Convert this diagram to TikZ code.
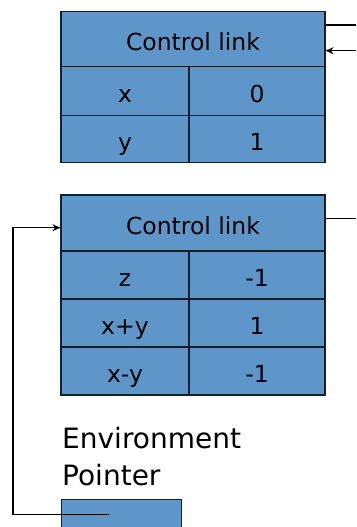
\documentclass[tikz,border=0pt]{standalone}
\usepackage{fontspec}
\setmainfont{DejaVu Sans}
\usetikzlibrary{arrows.meta,calc}
\definecolor{cellblue}{RGB}{94,150,201}
\definecolor{cellline}{RGB}{22,32,44}
\tikzset{
  cell/.style={draw=cellline, line width=1.1pt, fill=cellblue, inner sep=0pt,
    font=\fontsize{23.5}{28}\selectfont, text=black,
    text height=22pt, text depth=0pt},
  link/.style={draw=black, line width=1.5pt},
  tip/.style={-{Stealth[length=8pt,width=7pt]}}
}
\begin{document}
\begin{tikzpicture}[x=1pt,y=-1pt]
\useasboundingbox (0,0) rectangle (356,527);

% upper activation record
\node[cell, minimum width=264pt, minimum height=55pt] (hA) at (193,39.2) {Control link};
\node[cell, minimum width=128pt, minimum height=49pt] (xA) at (125,91.2) {x};
\node[cell, minimum width=136pt, minimum height=49pt] (xB) at (257,91.2) {0};
\node[cell, minimum width=128pt, minimum height=47pt] (yA) at (125,139.4) {y};
\node[cell, minimum width=136pt, minimum height=47pt] (yB) at (257,139.4) {1};

% lower activation record
\node[cell, minimum width=264pt, minimum height=56pt] (hB) at (193,223) {Control link};
\node[cell, minimum width=128pt, minimum height=48pt] (zA) at (125,275) {z};
\node[cell, minimum width=136pt, minimum height=48pt] (zB) at (257,275) {-1};
\node[cell, minimum width=128pt, minimum height=48pt] (sA) at (125,323) {x+y};
\node[cell, minimum width=136pt, minimum height=48pt] (sB) at (257,323) {1};
\node[cell, minimum width=128pt, minimum height=48pt] (dA) at (125,371) {x-y};
\node[cell, minimum width=136pt, minimum height=48pt] (dB) at (257,371) {-1};

% environment pointer
\node[anchor=north west, inner sep=0pt, font=\fontsize{28}{37}\selectfont, align=left] (lbl) at (62,426.6) {Environment\\Pointer};
\node[cell, minimum width=120pt, minimum height=50pt] (ep) at (121.5,524.5) {};

% connectors
\coordinate (outA) at (356,25);
\coordinate (inA) at (356,50.7);
\coordinate (outB) at (356,218.3);
\coordinate (epS) at (109,514.3);
\coordinate (bend) at (13,514.3);
\coordinate (top) at (13,227.7);

\draw[link] (hA.east |- outA) -- (outA);
\draw[link,tip] (inA) -- (hA.east |- inA);
\draw[link] (hB.east |- outB) -- (outB);
\draw[link,tip] (epS) -- (bend) -- (top) -- (hB.west |- top);
\end{tikzpicture}
\end{document}
